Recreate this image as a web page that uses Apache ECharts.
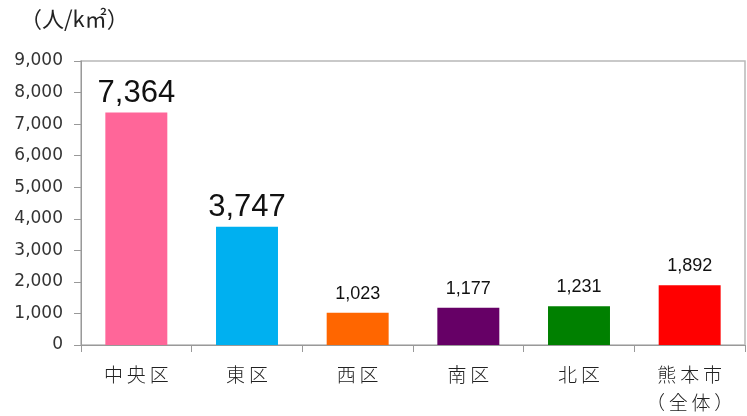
<!DOCTYPE html>
<html>
<head>
<meta charset="utf-8">
<script src="https://cdn.jsdelivr.net/npm/echarts@6/dist/echarts.min.js"></script>
<style>
html,body{margin:0;padding:0;background:#fff;}
#c{width:747px;height:416px;}
</style>
</head>
<body>
<div id="c"></div>
<script>
var categories = ['中央区', '東区', '西区', '南区', '北区', '熊本市\n（全体）'];
var values = [7364, 3747, 1023, 1177, 1231, 1892];
var yTicks = [0, 1000, 2000, 3000, 4000, 5000, 6000, 7000, 8000, 9000];
var unitLabel = '（人/k㎡）';

var barColors = ['#FF6699', '#00B0F0', '#FF6600', '#660066', '#008000', '#FF0000'];
var bigLabel = [true, true, false, false, false, false];

function fmt(v) {
  return String(v).replace(/\B(?=(\d{3})+(?!\d))/g, ',');
}
function spaced(s) {
  return s.split('\n').map(function (line) {
    return line.split('').join('\u2009');
  }).join('\n');
}

var chart = echarts.init(document.getElementById('c'), null, {renderer: 'canvas'});
var data = values.map(function (v, i) {
  return {
    value: v,
    itemStyle: {color: barColors[i]},
    label: bigLabel[i]
      ? {fontSize: 31, distance: 4}
      : {fontSize: 18, distance: 10}
  };
});

chart.setOption({
  animation: false,
  graphic: [{
    type: 'text',
    left: 20,
    top: 8,
    style: {
      text: unitLabel,
      font: '22px "Noto Sans CJK JP", "DejaVu Sans", sans-serif',
      fill: '#222'
    }
  }],
  grid: {
    left: 81, right: 2, top: 61, bottom: 71,
    outerBoundsMode: 'none',
    containLabel: false,
    show: true,
    borderColor: '#b8b8b8',
    borderWidth: 1.5
  },
  xAxis: {
    type: 'category',
    data: categories,
    axisLine: {lineStyle: {color: '#999', width: 1}},
    axisTick: {show: true, interval: 0, length: 7, lineStyle: {color: '#999'}},
    axisLabel: {
      interval: 0,
      hideOverlap: false,
      color: '#222',
      fontSize: 19,
      fontFamily: '"Noto Sans CJK JP", sans-serif',
      fontWeight: 300,
      margin: 16,
      lineHeight: 28,
      formatter: function (v) { return spaced(v); }
    }
  },
  yAxis: {
    type: 'value',
    min: yTicks[0],
    max: yTicks[yTicks.length - 1],
    interval: 1000,
    splitLine: {show: false},
    axisLine: {show: true, lineStyle: {color: '#999', width: 1}},
    axisTick: {show: true, length: 7, lineStyle: {color: '#999'}},
    axisLabel: {
      color: '#333',
      fontSize: 17,
      fontFamily: '"DejaVu Sans", sans-serif',
      margin: 18,
      formatter: function (v) { return fmt(v); }
    }
  },
  series: [{
    type: 'bar',
    data: data,
    barWidth: '56%',
    label: {
      show: true,
      position: 'top',
      color: '#111',
      fontFamily: '"Liberation Sans", Arial, sans-serif',
      formatter: function (p) { return fmt(p.value); }
    }
  }]
});
</script>
</body>
</html>
